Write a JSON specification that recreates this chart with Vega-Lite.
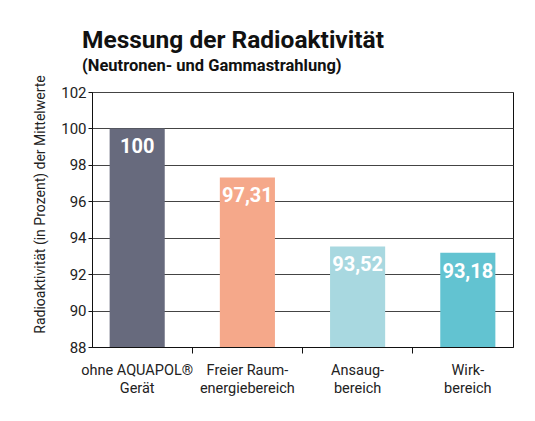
{
  "$schema": "https://vega.github.io/schema/vega-lite/v6.json",
  "width": 421,
  "height": 255,
  "autosize": "none",
  "padding": {"left": 92, "top": 92, "right": 22, "bottom": 74},
  "background": "white",
  "title": {
    "text": "Messung der Radioaktivität",
    "subtitle": "(Neutronen- und Gammastrahlung)",
    "anchor": "start",
    "frame": "group",
    "dx": -10,
    "offset": -1,
    "font": "Roboto",
    "fontSize": 24.5,
    "fontWeight": "bold",
    "color": "#111111",
    "subtitleFont": "Roboto",
    "subtitleFontSize": 16.5,
    "subtitleFontWeight": "bold",
    "subtitleColor": "#111111",
    "subtitlePadding": 5
  },
  "data": {
    "values": [
      {"bereich": "ohne AQUAPOL®\nGerät", "wert": 100, "label": "100"},
      {"bereich": "Freier Raum-\nenergiebereich", "wert": 97.31, "label": "97,31"},
      {"bereich": "Ansaug-\nbereich", "wert": 93.52, "label": "93,52"},
      {"bereich": "Wirk-\nbereich", "wert": 93.18, "label": "93,18"}
    ]
  },
  "encoding": {
    "y": {
      "field": "wert",
      "type": "quantitative",
      "scale": {"domain": [88, 102], "zero": false, "nice": false},
      "axis": {
        "title": "Radioaktivität (in Prozent) der Mittelwerte",
        "values": [88, 90, 92, 94, 96, 98, 100, 102],
        "labelOverlap": false,
        "grid": true,
        "gridColor": "#444444",
        "gridOpacity": 1,
        "domainColor": "#111111",
        "tickColor": "#111111",
        "tickSize": 4,
        "labelPadding": 2,
        "labelFont": "Roboto",
        "labelFontSize": 15,
        "labelColor": "#222222",
        "titleFont": "Roboto",
        "titleFontSize": 14,
        "titleFontWeight": "normal",
        "titleColor": "#222222",
        "titleAngle": -90,
        "titleX": -52,
        "titleY": 112,
        "titleAlign": "center",
        "titleBaseline": "middle"
      }
    }
  },
  "layer": [
    {
      "mark": {"type": "bar", "clip": true},
      "encoding": {
        "x": {
          "field": "bereich",
          "type": "nominal",
          "sort": null,
          "scale": {"paddingInner": 0.5, "paddingOuter": 0.16},
          "axis": {
            "title": null,
            "orient": "bottom",
            "labelAngle": 0,
            "ticks": false,
            "domain": true,
            "domainColor": "#111111",
            "labelExpr": "split(datum.value, '\\n')",
            "labelFont": "Roboto",
            "labelFontSize": 14.5,
            "labelColor": "#222222",
            "labelLineHeight": 18,
            "labelPadding": 16
          }
        },
        "y2": {"datum": 88},
        "color": {
          "field": "bereich",
          "type": "nominal",
          "sort": null,
          "scale": {"range": ["#676a7d", "#f5a88a", "#a8d8e0", "#62c3d1"]},
          "legend": null
        }
      }
    },
    {
      "mark": {
        "type": "text",
        "baseline": "alphabetic",
        "dy": 25,
        "font": "Roboto",
        "fontSize": 20,
        "fontWeight": "bold",
        "color": "white"
      },
      "encoding": {
        "x": {
          "field": "bereich",
          "type": "nominal",
          "sort": null,
          "axis": {
            "title": null,
            "orient": "bottom",
            "labels": false,
            "domain": false,
            "ticks": true,
            "tickSize": 6,
            "tickColor": "#111111",
            "bandPosition": 1.5,
            "values": ["ohne AQUAPOL®\nGerät", "Freier Raum-\nenergiebereich", "Ansaug-\nbereich"]
          }
        },
        "text": {"field": "label"}
      }
    }
  ],
  "resolve": {"axis": {"x": "independent"}},
  "config": {
    "view": {"stroke": "#111111", "strokeWidth": 1}
  }
}
